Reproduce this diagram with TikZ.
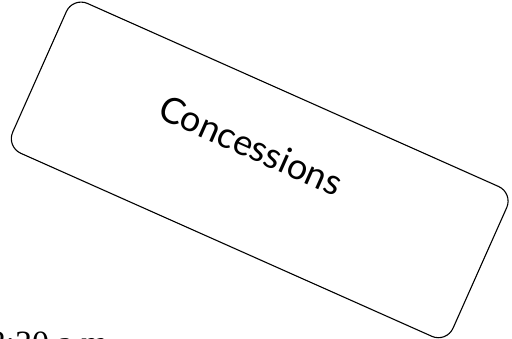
\documentclass[tikz,border=0pt]{standalone}
\usepackage{fontspec}
\setmainfont{Liberation Serif}
\newfontfamily\tagfont{Lato}
\begin{document}
\begin{tikzpicture}[x=1pt,y=-1pt,
		tag/.style={draw,rounded corners=16pt,line width=1.1pt,
			minimum width=482pt,minimum height=164pt,inner sep=0pt},
		taglabel/.style={font=\tagfont\fontsize{36}{40}\selectfont,inner sep=0pt}]
		% Marc de la imatge
		\useasboundingbox (0,0) rectangle (512,339);

		% Etiqueta girada
		\node[tag,rotate=-24] (box) at (259.7,169.9) {};
		\node[taglabel,rotate=-24,xshift=-18pt,yshift=19pt] (name) at (box.center) {Concessions};

		% Hora
		\node[anchor=base west,inner sep=0pt,font=\fontsize{34}{40}\selectfont] (time) at (-11.5,355) {8:30 a.m.};
	\end{tikzpicture}
\end{document}
